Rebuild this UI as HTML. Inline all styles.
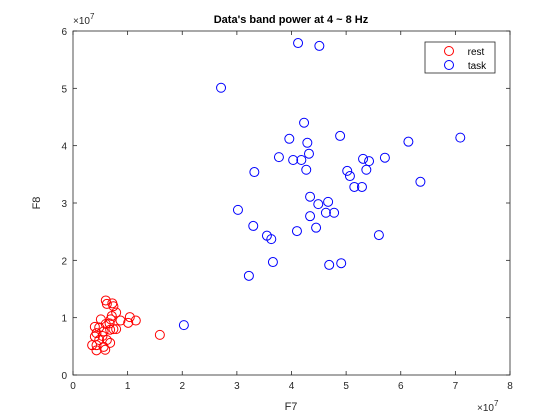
<!DOCTYPE html>
<html><head><meta charset="utf-8"><style>
body{margin:0;background:#fff;}
svg{display:block;font-family:"Liberation Sans",Arial,sans-serif;}
</style></head><body>
<svg id="chart" width="560" height="420" viewBox="0 0 560 420" xmlns="http://www.w3.org/2000/svg">
<rect width="560" height="420" fill="#fff"/>
<text x="291" y="23" text-anchor="middle" font-size="11" font-weight="bold" fill="#000">Data's band power at 4 ~ 8 Hz</text>
<rect x="73" y="31" width="437" height="344" fill="#fff" stroke="#262626" stroke-width="0.8"/>
<g id="ticks"></g>
<g id="marks"></g>
<text x="291" y="410" text-anchor="middle" font-size="11" fill="#262626">F7</text>
<text transform="translate(40,203) rotate(-90)" text-anchor="middle" font-size="11" fill="#262626">F8</text>
<text x="73" y="24" font-size="10" fill="#262626">×10<tspan dy="-5" font-size="8">7</tspan></text>
<text x="477" y="411" font-size="10" fill="#262626">×10<tspan dy="-5" font-size="8">7</tspan></text>
<g>
<rect x="425" y="42" width="70" height="31" fill="#fff" stroke="#262626" stroke-width="0.8"/>
<circle cx="449" cy="51" r="4.5" fill="none" stroke="#f00"/>
<text x="476" y="55" font-size="10" text-anchor="middle" fill="#000">rest</text>
<circle cx="449" cy="65" r="4.5" fill="none" stroke="#00f"/>
<text x="477" y="69" font-size="10" text-anchor="middle" fill="#000">task</text>
</g>
</svg>
<script>
const xTicks=[0,1,2,3,4,5,6,7,8];
const yTicks=[0,1,2,3,4,5,6];
const restX=[0.60,0.62,0.72,0.74,0.79,0.71,0.69,0.51,0.87,1.04,1.01,1.15,0.67,0.60,0.40,0.48,0.74,0.79,0.56,0.68,0.43,0.54,0.40,0.48,0.62,0.68,0.35,0.43,0.56,0.43,0.59,1.59];
const restY=[1.30,1.24,1.25,1.20,1.09,1.03,0.97,0.97,0.95,1.01,0.91,0.95,0.90,0.89,0.84,0.83,0.80,0.80,0.76,0.79,0.73,0.68,0.67,0.61,0.61,0.56,0.52,0.52,0.49,0.43,0.44,0.70];
const taskX=[4.12,4.51,2.71,4.23,3.96,4.89,4.29,6.14,7.09,3.77,4.32,4.03,4.18,5.31,5.42,5.71,4.27,3.32,5.02,5.07,5.37,5.15,5.29,6.36,4.34,4.49,4.67,3.02,4.63,4.78,4.34,3.30,4.45,4.10,3.55,3.63,5.60,3.66,4.69,4.91,3.22,2.03];
const taskY=[5.79,5.74,5.01,4.40,4.12,4.17,4.05,4.07,4.14,3.80,3.86,3.75,3.75,3.77,3.73,3.79,3.58,3.54,3.56,3.47,3.58,3.28,3.28,3.37,3.11,2.98,3.02,2.88,2.83,2.83,2.77,2.60,2.57,2.51,2.43,2.37,2.44,1.97,1.92,1.95,1.73,0.87];
const X0=73,X1=510,Y0=375,Y1=31;
const sx=v=>X0+(v-0)/(8-0)*(X1-X0);
const sy=v=>Y0-(v-0)/(6-0)*(Y0-Y1);
const NS="http://www.w3.org/2000/svg";
const tg=document.getElementById('ticks'), mg=document.getElementById('marks');
function mk(tag,attrs,parent){const e=document.createElementNS(NS,tag);for(const k in attrs)e.setAttribute(k,attrs[k]);parent.appendChild(e);return e;}
xTicks.forEach(t=>{
  const x=sx(t);
  const l1=mk('line',{x1:x,x2:x,y1:Y0,y2:Y0-4,stroke:'#262626','stroke-width':0.8},tg);
  
  
  const l2=mk('line',{x1:x,x2:x,y1:Y1,y2:Y1+4,stroke:'#262626','stroke-width':0.8},tg);
  
  
  const tx=mk('text',{x:x,y:Y0+14,'text-anchor':'middle','font-size':10,fill:'#262626'},tg);
  tx.textContent=t;
  
  
});
yTicks.forEach(t=>{
  const y=sy(t);
  const l1=mk('line',{x1:X0,x2:X0+4,y1:y,y2:y,stroke:'#262626','stroke-width':0.8},tg);
  
  
  const l2=mk('line',{x1:X1,x2:X1-4,y1:y,y2:y,stroke:'#262626','stroke-width':0.8},tg);
  
  
  const tx=mk('text',{x:X0-6,y:y+4,'text-anchor':'end','font-size':10,fill:'#262626'},tg);
  tx.textContent=t;
  
  
});
restX.forEach((v,i)=>{
  const c=mk('circle',{cx:sx(v),cy:sy(restY[i]),r:4.5,fill:'none',stroke:'#f00','stroke-width':1},mg);
  
  
});
taskX.forEach((v,i)=>{
  const c=mk('circle',{cx:sx(v),cy:sy(taskY[i]),r:4.5,fill:'none',stroke:'#00f','stroke-width':1},mg);
  
  
});
</script>
</body></html>
